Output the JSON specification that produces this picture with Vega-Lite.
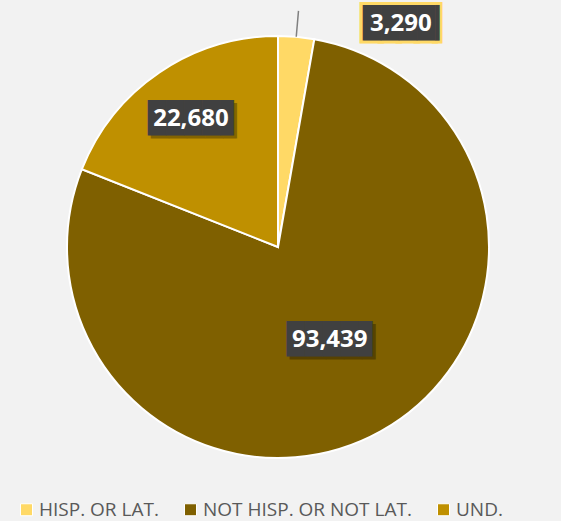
{
  "$schema": "https://vega.github.io/schema/vega-lite/v6.json",
  "width": 556,
  "height": 494,
  "autosize": {"type": "none"},
  "padding": {"left": 0, "top": 0, "right": 5, "bottom": 27},
  "background": "#f2f2f2",
  "config": {"view": {"stroke": null}},
  "data": {"values": [
    {"cat": "HISP. OR LAT.", "value": 3290, "label": "3,290", "idx": 1},
    {"cat": "NOT HISP. OR NOT LAT.", "value": 93439, "label": "93,439", "idx": 2},
    {"cat": "UND.", "value": 22680, "label": "22,680", "idx": 3}
  ]},
  "encoding": {
    "theta": {"field": "value", "type": "quantitative", "stack": true},
    "order": {"field": "idx", "type": "quantitative"}
  },
  "layer": [
    {
      "mark": {"type": "arc", "outerRadius": 211, "stroke": "white", "strokeWidth": 2},
      "encoding": {
        "color": {
          "field": "cat", "type": "nominal",
          "scale": {"domain": ["HISP. OR LAT.", "NOT HISP. OR NOT LAT.", "UND."], "range": ["#FFD966", "#7F6000", "#BF9000"]},
          "legend": {
            "orient": "none", "legendX": 17, "legendY": 500, "direction": "horizontal", "title": null,
            "symbolType": "square", "symbolSize": 144, "symbolStrokeColor": "white", "symbolStrokeWidth": 1,
            "labelFont": "Open Sans", "labelFontSize": 19, "labelColor": "#595959", "labelLimit": 400,
            "columnPadding": 22, "labelOffset": 3, "symbolOpacity": 1
          }
        }
      }
    },
    {
      "mark": {"type": "arc", "radius": 237, "radius2": 211, "padAngle": 0.6, "fill": null, "stroke": "#808080", "strokeWidth": 1.5},
      "encoding": {"strokeOpacity": {"condition": {"test": "datum.cat === 'HISP. OR LAT.'", "value": 1}, "value": 0}}
    },
    {
      "mark": {"type": "text", "radius": 255, "thetaOffset": 0.416, "dx": 7, "font": "DejaVu Sans Mono", "fontSize": 30, "fill": "#FFD966", "stroke": "#FFD966", "strokeWidth": 6},
      "encoding": {"text": {"condition": {"test": "datum.cat === 'HISP. OR LAT.'", "value": "████▎"}, "value": ""}}
    },
    {
      "mark": {"type": "text", "radius": 255, "thetaOffset": 0.416, "dx": 7, "font": "DejaVu Sans Mono", "fontSize": 30, "fill": "#404040"},
      "encoding": {"text": {"condition": {"test": "datum.cat === 'HISP. OR LAT.'", "value": "████▎"}, "value": ""}}
    },
    {
      "mark": {"type": "text", "radius": 255, "thetaOffset": 0.416, "font": "Open Sans", "fontSize": 24, "fontWeight": "bold", "fill": "white"},
      "encoding": {"text": {"condition": {"test": "datum.cat === 'HISP. OR LAT.'", "field": "label"}, "value": ""}}
    },
    {
      "mark": {"type": "text", "radius": 155, "dx": 5, "dy": 3, "font": "DejaVu Sans Mono", "fontSize": 30, "fill": "black", "opacity": 0.3},
      "encoding": {"text": {"condition": {"test": "datum.cat === 'UND.'", "value": "████▊"}, "value": ""}}
    },
    {
      "mark": {"type": "text", "radius": 155, "dx": 2, "font": "DejaVu Sans Mono", "fontSize": 30, "fill": "#404040"},
      "encoding": {"text": {"condition": {"test": "datum.cat === 'UND.'", "value": "████▊"}, "value": ""}}
    },
    {
      "mark": {"type": "text", "radius": 155, "font": "Open Sans", "fontSize": 24, "fontWeight": "bold", "fill": "white"},
      "encoding": {"text": {"condition": {"test": "datum.cat === 'UND.'", "field": "label"}, "value": ""}}
    },
    {
      "mark": {"type": "text", "radius": 106, "dx": 5, "dy": 3, "font": "DejaVu Sans Mono", "fontSize": 30, "fill": "black", "opacity": 0.3},
      "encoding": {"text": {"condition": {"test": "datum.cat === 'NOT HISP. OR NOT LAT.'", "value": "████▊"}, "value": ""}}
    },
    {
      "mark": {"type": "text", "radius": 106, "dx": 2, "font": "DejaVu Sans Mono", "fontSize": 30, "fill": "#404040"},
      "encoding": {"text": {"condition": {"test": "datum.cat === 'NOT HISP. OR NOT LAT.'", "value": "████▊"}, "value": ""}}
    },
    {
      "mark": {"type": "text", "radius": 106, "font": "Open Sans", "fontSize": 24, "fontWeight": "bold", "fill": "white"},
      "encoding": {"text": {"condition": {"test": "datum.cat === 'NOT HISP. OR NOT LAT.'", "field": "label"}, "value": ""}}
    }
  ]
}
